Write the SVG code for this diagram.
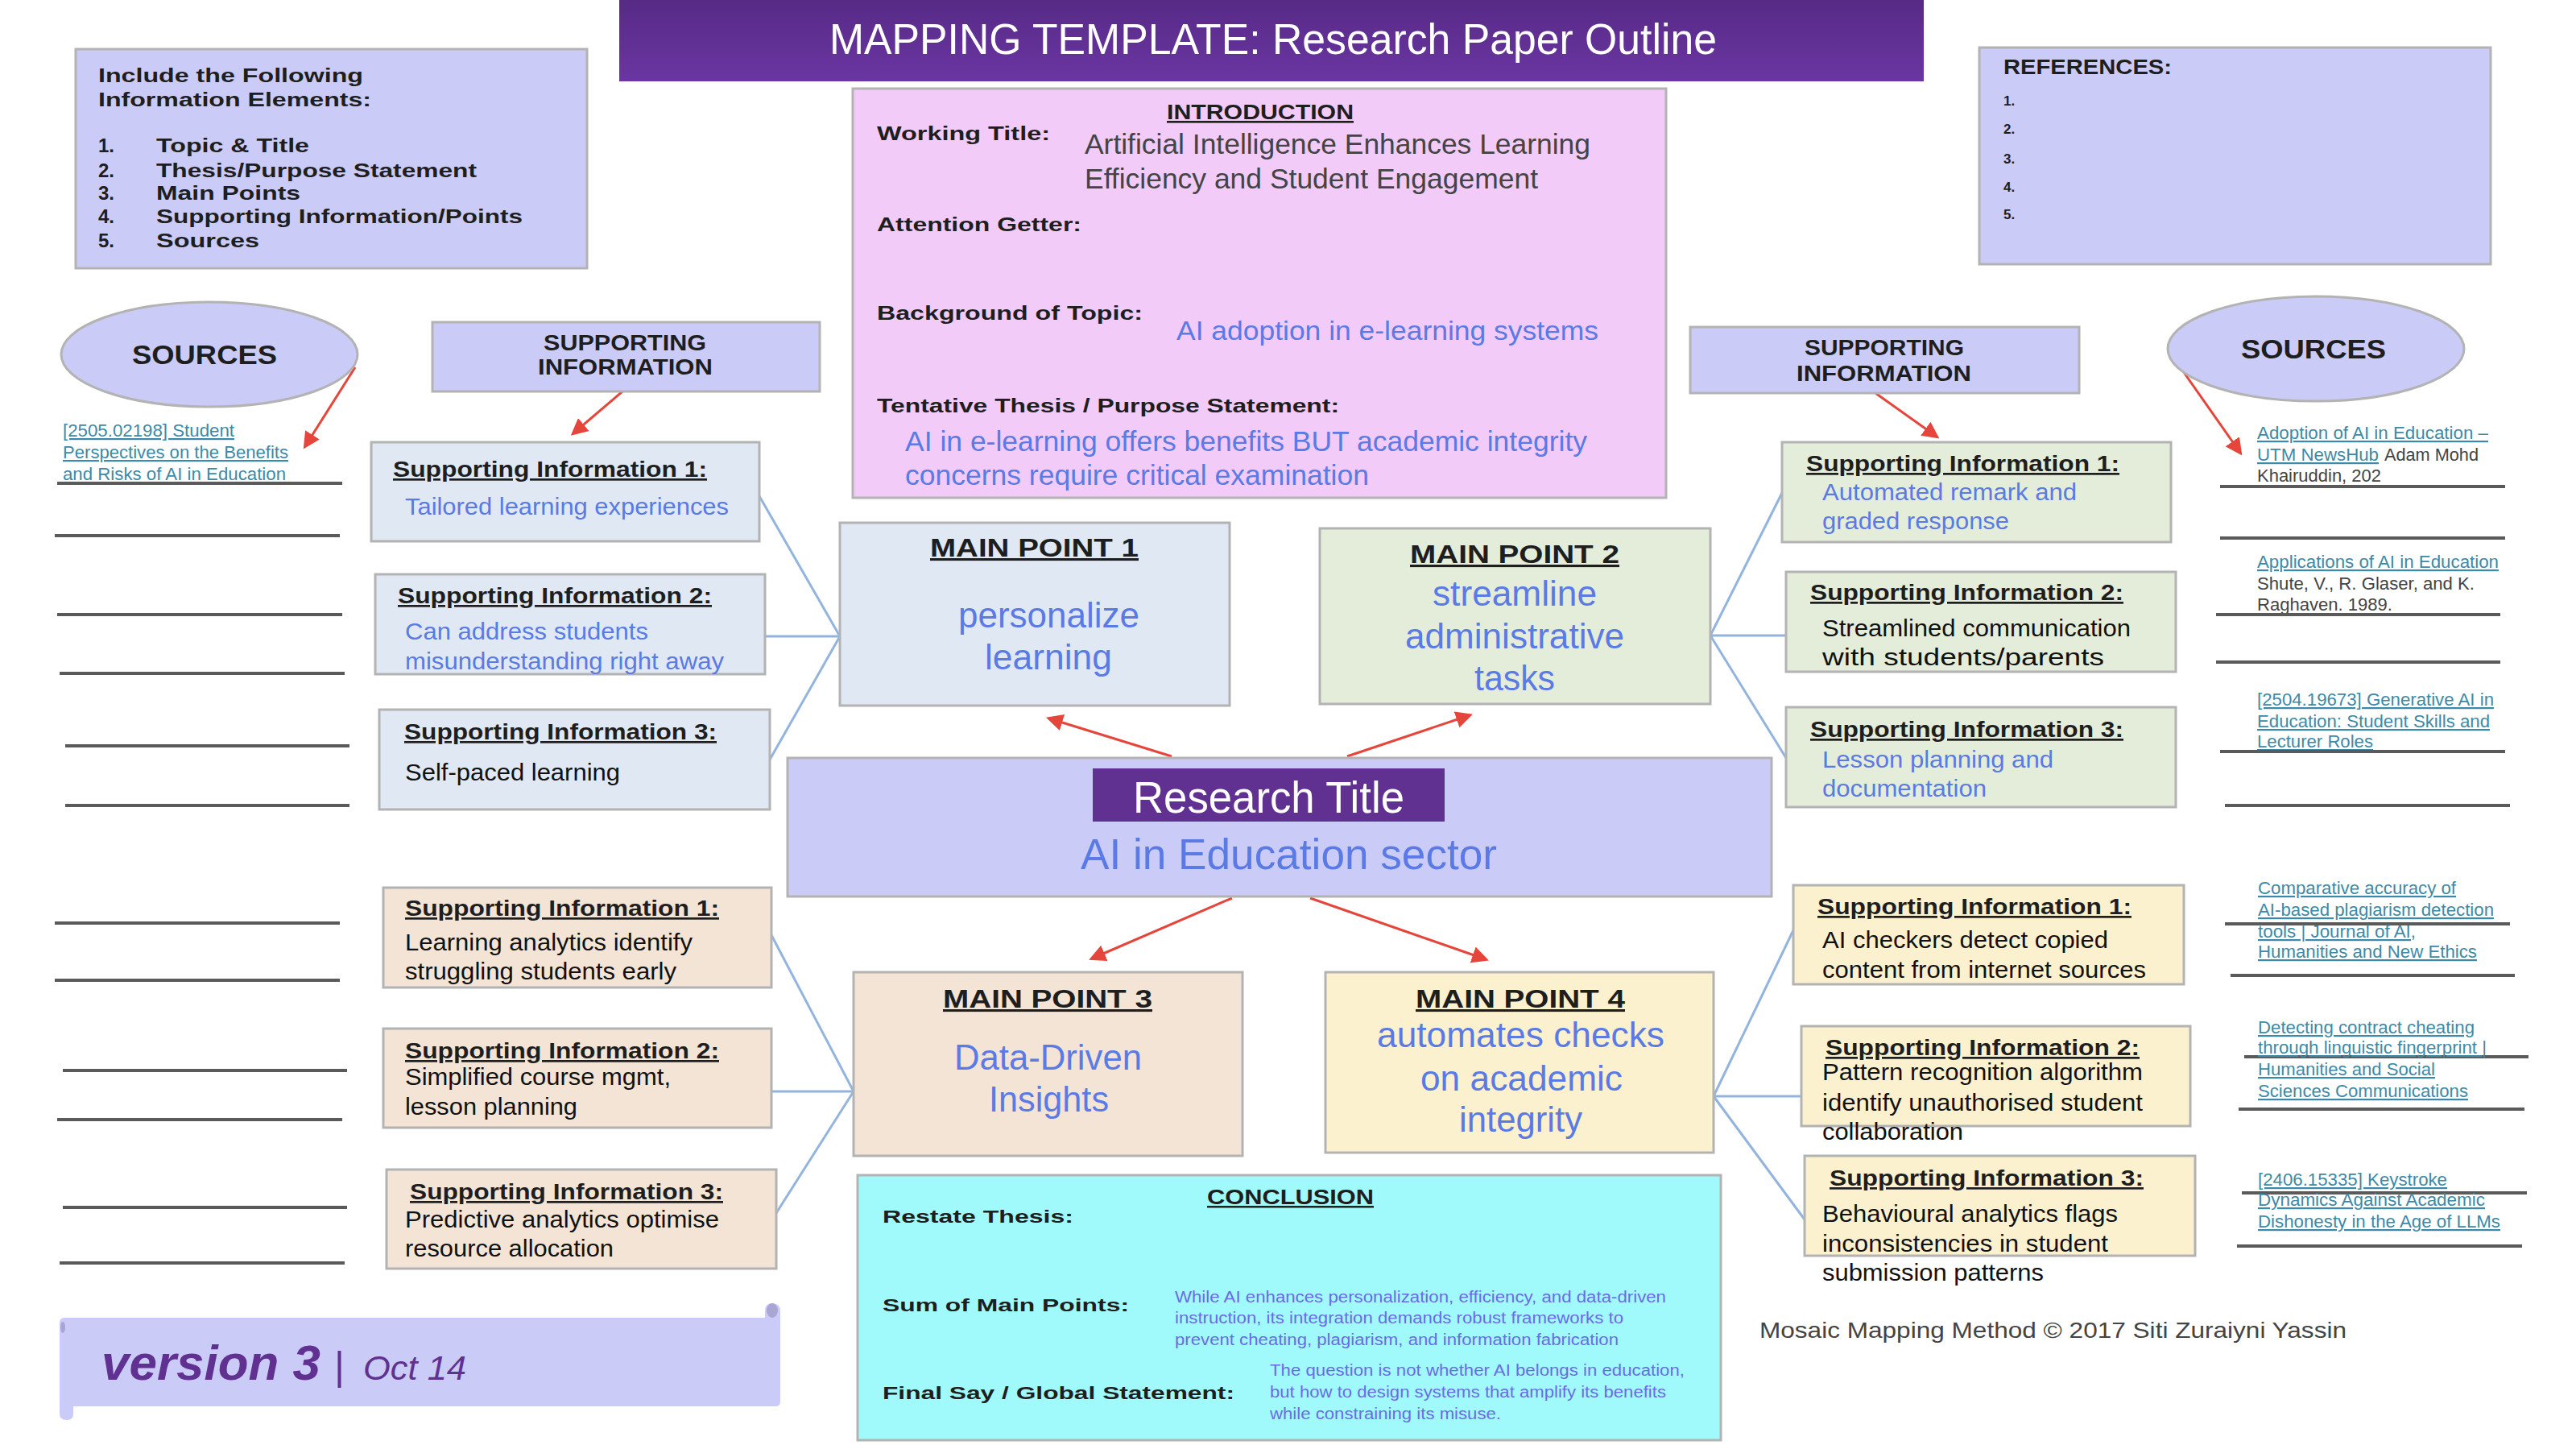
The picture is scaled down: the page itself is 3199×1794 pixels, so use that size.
<svg xmlns="http://www.w3.org/2000/svg" width="3199" height="1794" viewBox="0 0 3199 1794">
<defs>
<linearGradient id="barGrad" x1="0" y1="0" x2="0" y2="1">
<stop offset="0" stop-color="#572a86"/>
<stop offset="1" stop-color="#6a36a2"/>
</linearGradient>
<marker id="redArrow" viewBox="0 0 10 10" refX="8" refY="5" markerWidth="7" markerHeight="7" orient="auto">
<path d="M0,0 L10,5 L0,10 z" fill="#e5453a"/>
</marker>
<style>
.box{stroke:#b3b3b3;stroke-width:3}
.lav{fill:#cbcbf7}
.pink{fill:#f2cbf8}
.bl{fill:#dfe8f3}
.gr{fill:#e4ecda}
.pe{fill:#f3e4d6}
.ye{fill:#fbf1cf}
.cy{fill:#a0fafb}
text{font-family:"Liberation Sans",Arial,sans-serif}
.b{font-weight:bold;fill:#1e1e1e}
.n{font-family:"Liberation Sans Narrow","Liberation Sans",Arial,sans-serif}
.blue{fill:#5a7ae6}
.blk{fill:#111}
.dg{fill:#444}
.vio{fill:#6b6be6}
.u{text-decoration:underline}
.src{font-family:"Liberation Sans Narrow","Liberation Sans",Arial,sans-serif;font-size:22px;fill:#3d8aa8;text-decoration:underline}
.src2{font-family:"Liberation Sans Narrow","Liberation Sans",Arial,sans-serif;font-size:22px;fill:#444}
.line{stroke:#5a5a5a;stroke-width:4}
.conn{stroke:#93b4dd;stroke-width:3;fill:none}
.red{stroke:#e5453a;stroke-width:3;fill:none;marker-end:url(#redArrow)}
.sih{font-size:27px;font-weight:bold;fill:#1e1e1e;text-decoration:underline}
.sit{font-size:29px}
.mph{font-size:31px;font-weight:bold;fill:#1e1e1e;text-decoration:underline}
.mpt{font-size:44px}
</style>
</defs>
<rect x="0" y="0" width="3199" height="1794" fill="#ffffff"/>

<g id="title-bar">
<rect x="769" y="0" width="1620" height="101" fill="url(#barGrad)"/>
<text x="1030" y="67" font-family="Open Sans, sans-serif" font-size="53" fill="#ffffff" textLength="1102" lengthAdjust="spacingAndGlyphs">MAPPING TEMPLATE: Research Paper Outline</text>
</g>

<g id="info-elements">
<rect class="box lav" x="94" y="61" width="635" height="272"/>
<text class="b" font-size="24" x="122" y="102" textLength="329" lengthAdjust="spacingAndGlyphs">Include the Following</text>
<text class="b" font-size="24" x="122" y="132" textLength="339" lengthAdjust="spacingAndGlyphs">Information Elements:</text>
<text class="b" font-size="24" x="122" y="189">1.</text>
<text class="b" font-size="24" x="194" y="189" textLength="190" lengthAdjust="spacingAndGlyphs">Topic &amp; Title</text>
<text class="b" font-size="24" x="122" y="220">2.</text>
<text class="b" font-size="24" x="194" y="220" textLength="398" lengthAdjust="spacingAndGlyphs">Thesis/Purpose Statement</text>
<text class="b" font-size="24" x="122" y="248">3.</text>
<text class="b" font-size="24" x="194" y="248" textLength="179" lengthAdjust="spacingAndGlyphs">Main Points</text>
<text class="b" font-size="24" x="122" y="277">4.</text>
<text class="b" font-size="24" x="194" y="277" textLength="455" lengthAdjust="spacingAndGlyphs">Supporting Information/Points</text>
<text class="b" font-size="24" x="122" y="307">5.</text>
<text class="b" font-size="24" x="194" y="307" textLength="128" lengthAdjust="spacingAndGlyphs">Sources</text>
</g>

<g id="references">
<rect class="box lav" x="2458" y="59" width="635" height="269"/>
<text class="b" font-size="26" x="2488" y="92" textLength="209" lengthAdjust="spacingAndGlyphs">REFERENCES:</text>
<text class="b" font-size="17" x="2488" y="131">1.</text>
<text class="b" font-size="17" x="2488" y="166">2.</text>
<text class="b" font-size="17" x="2488" y="203">3.</text>
<text class="b" font-size="17" x="2488" y="238">4.</text>
<text class="b" font-size="17" x="2488" y="272">5.</text>
</g>

<g id="introduction">
<rect class="box pink" x="1059" y="110" width="1010" height="508"/>
<text class="b u" font-size="26" x="1449" y="148" textLength="232" lengthAdjust="spacingAndGlyphs">INTRODUCTION</text>
<text class="b" font-size="23" x="1089" y="174" textLength="215" lengthAdjust="spacingAndGlyphs">Working Title:</text>
<text class="n dg" font-size="35" x="1347" y="191" textLength="628" lengthAdjust="spacingAndGlyphs">Artificial Intelligence Enhances Learning</text>
<text class="n dg" font-size="35" x="1347" y="234" textLength="563" lengthAdjust="spacingAndGlyphs">Efficiency and Student Engagement</text>
<text class="b" font-size="23" x="1089" y="287" textLength="254" lengthAdjust="spacingAndGlyphs">Attention Getter:</text>
<text class="b" font-size="23" x="1089" y="397" textLength="330" lengthAdjust="spacingAndGlyphs">Background of Topic:</text>
<text class="n blue" font-size="34" x="1461" y="422" textLength="524" lengthAdjust="spacingAndGlyphs">AI adoption in e-learning systems</text>
<text class="b" font-size="23" x="1089" y="512" textLength="574" lengthAdjust="spacingAndGlyphs">Tentative Thesis / Purpose Statement:</text>
<text class="n blue" font-size="35" x="1124" y="560" textLength="847" lengthAdjust="spacingAndGlyphs">AI in e-learning offers benefits BUT academic integrity</text>
<text class="n blue" font-size="35" x="1124" y="602" textLength="576" lengthAdjust="spacingAndGlyphs">concerns require critical examination</text>
</g>

<g id="connectors">
<line class="conn" x1="943" y1="616" x2="1043" y2="790"/>
<line class="conn" x1="949" y1="790" x2="1043" y2="790"/>
<line class="conn" x1="956" y1="943" x2="1043" y2="790"/>
<line class="conn" x1="2124" y1="789" x2="2213" y2="612"/>
<line class="conn" x1="2124" y1="789" x2="2218" y2="789"/>
<line class="conn" x1="2124" y1="789" x2="2218" y2="941"/>
<line class="conn" x1="958" y1="1161" x2="1060" y2="1355"/>
<line class="conn" x1="958" y1="1355" x2="1060" y2="1355"/>
<line class="conn" x1="964" y1="1506" x2="1060" y2="1355"/>
<line class="conn" x1="2128" y1="1361" x2="2227" y2="1155"/>
<line class="conn" x1="2128" y1="1361" x2="2237" y2="1361"/>
<line class="conn" x1="2128" y1="1361" x2="2241" y2="1514"/>
<line class="red" x1="441" y1="456" x2="379" y2="554"/>
<line class="red" x1="773" y1="486" x2="712" y2="538"/>
<line class="red" x1="2329" y1="488" x2="2405" y2="542"/>
<line class="red" x1="2709" y1="458" x2="2782" y2="562"/>
<line class="red" x1="1455" y1="939" x2="1303" y2="892"/>
<line class="red" x1="1673" y1="939" x2="1825" y2="888"/>
<line class="red" x1="1530" y1="1115" x2="1356" y2="1190"/>
<line class="red" x1="1627" y1="1115" x2="1845" y2="1191"/>
</g>

<g id="sources-left">
<ellipse class="box lav" cx="260" cy="440" rx="184" ry="65"/>
<text class="b" font-size="34" x="164" y="452" textLength="180" lengthAdjust="spacingAndGlyphs">SOURCES</text>
<text class="src" x="78" y="542" textLength="213" lengthAdjust="spacingAndGlyphs">[2505.02198] Student</text>
<text class="src" x="78" y="569" textLength="280" lengthAdjust="spacingAndGlyphs">Perspectives on the Benefits</text>
<text class="src" x="78" y="596" textLength="277" lengthAdjust="spacingAndGlyphs">and Risks of AI in Education</text>
<line class="line" x1="71" y1="600" x2="425" y2="600"/>
<line class="line" x1="68" y1="665" x2="422" y2="665"/>
<line class="line" x1="71" y1="763" x2="425" y2="763"/>
<line class="line" x1="74" y1="836" x2="428" y2="836"/>
<line class="line" x1="81" y1="926" x2="434" y2="926"/>
<line class="line" x1="81" y1="1000" x2="434" y2="1000"/>
<line class="line" x1="68" y1="1146" x2="422" y2="1146"/>
<line class="line" x1="68" y1="1217" x2="422" y2="1217"/>
<line class="line" x1="78" y1="1329" x2="431" y2="1329"/>
<line class="line" x1="71" y1="1390" x2="425" y2="1390"/>
<line class="line" x1="78" y1="1499" x2="431" y2="1499"/>
<line class="line" x1="74" y1="1568" x2="428" y2="1568"/>
</g>

<g id="sources-right">
<ellipse class="box lav" cx="2876" cy="433" rx="184" ry="65"/>
<text class="b" font-size="34" x="2783" y="445" textLength="180" lengthAdjust="spacingAndGlyphs">SOURCES</text>
<text class="src" x="2803" y="545" textLength="287" lengthAdjust="spacingAndGlyphs">Adoption of AI in Education –</text>
<text class="src" x="2803" y="572" textLength="151" lengthAdjust="spacingAndGlyphs">UTM NewsHub</text>
<text class="src2" x="2961" y="572" textLength="117" lengthAdjust="spacingAndGlyphs">Adam Mohd</text>
<text class="src2" x="2803" y="598" textLength="154" lengthAdjust="spacingAndGlyphs">Khairuddin, 202</text>
<line class="line" x1="2757" y1="604" x2="3111" y2="604"/>
<line class="line" x1="2757" y1="668" x2="3111" y2="668"/>
<text class="src" x="2803" y="705" textLength="300" lengthAdjust="spacingAndGlyphs">Applications of AI in Education</text>
<text class="src2" x="2803" y="732" textLength="270" lengthAdjust="spacingAndGlyphs">Shute, V., R. Glaser, and K.</text>
<text class="src2" x="2803" y="758" textLength="168" lengthAdjust="spacingAndGlyphs">Raghaven. 1989.</text>
<line class="line" x1="2752" y1="763" x2="3105" y2="763"/>
<line class="line" x1="2752" y1="822" x2="3105" y2="822"/>
<text class="src" x="2803" y="876" textLength="294" lengthAdjust="spacingAndGlyphs">[2504.19673] Generative AI in</text>
<text class="src" x="2803" y="903" textLength="289" lengthAdjust="spacingAndGlyphs">Education: Student Skills and</text>
<text class="src" x="2803" y="928" textLength="144" lengthAdjust="spacingAndGlyphs">Lecturer Roles</text>
<line class="line" x1="2757" y1="933" x2="3111" y2="933"/>
<line class="line" x1="2763" y1="1000" x2="3117" y2="1000"/>
<line class="line" x1="2763" y1="1147" x2="3117" y2="1147"/>
<text class="src" x="2804" y="1110" textLength="246" lengthAdjust="spacingAndGlyphs">Comparative accuracy of</text>
<text class="src" x="2804" y="1137" textLength="293" lengthAdjust="spacingAndGlyphs">AI-based plagiarism detection</text>
<text class="src" x="2804" y="1164" textLength="196" lengthAdjust="spacingAndGlyphs">tools | Journal of AI,</text>
<text class="src" x="2804" y="1189" textLength="272" lengthAdjust="spacingAndGlyphs">Humanities and New Ethics</text>
<line class="line" x1="2770" y1="1211" x2="3123" y2="1211"/>
<line class="line" x1="2787" y1="1312" x2="3140" y2="1312"/>
<text class="src" x="2804" y="1283" textLength="269" lengthAdjust="spacingAndGlyphs">Detecting contract cheating</text>
<text class="src" x="2804" y="1308" textLength="284" lengthAdjust="spacingAndGlyphs">through linguistic fingerprint |</text>
<text class="src" x="2804" y="1335" textLength="220" lengthAdjust="spacingAndGlyphs">Humanities and Social</text>
<text class="src" x="2804" y="1362" textLength="261" lengthAdjust="spacingAndGlyphs">Sciences Communications</text>
<line class="line" x1="2780" y1="1377" x2="3135" y2="1377"/>
<line class="line" x1="2784" y1="1481" x2="3138" y2="1481"/>
<text class="src" x="2804" y="1472" textLength="235" lengthAdjust="spacingAndGlyphs">[2406.15335] Keystroke</text>
<text class="src" x="2804" y="1497" textLength="282" lengthAdjust="spacingAndGlyphs">Dynamics Against Academic</text>
<text class="src" x="2804" y="1524" textLength="301" lengthAdjust="spacingAndGlyphs">Dishonesty in the Age of LLMs</text>
<line class="line" x1="2778" y1="1547" x2="3132" y2="1547"/>
</g>

<g id="supporting-header-left">
<rect class="box lav" x="537" y="400" width="481" height="86"/>
<text class="b" font-size="27" x="675" y="435" textLength="202" lengthAdjust="spacingAndGlyphs">SUPPORTING</text>
<text class="b" font-size="27" x="668" y="465" textLength="217" lengthAdjust="spacingAndGlyphs">INFORMATION</text>
</g>
<g id="supporting-header-right">
<rect class="box lav" x="2099" y="406" width="483" height="82"/>
<text class="b" font-size="27" x="2241" y="441" textLength="198" lengthAdjust="spacingAndGlyphs">SUPPORTING</text>
<text class="b" font-size="27" x="2231" y="473" textLength="217" lengthAdjust="spacingAndGlyphs">INFORMATION</text>
</g>

<g id="si-left-1">
<rect class="box bl" x="461" y="549" width="482" height="123"/>
<text class="sih" x="488" y="592" textLength="390" lengthAdjust="spacingAndGlyphs">Supporting Information 1:</text>
<text class="n sit blue" x="503" y="639" textLength="402" lengthAdjust="spacingAndGlyphs">Tailored learning experiences</text>
</g>
<g id="si-left-2">
<rect class="box bl" x="466" y="713" width="484" height="124"/>
<text class="sih" x="494" y="749" textLength="390" lengthAdjust="spacingAndGlyphs">Supporting Information 2:</text>
<text class="n sit blue" x="503" y="794" textLength="302" lengthAdjust="spacingAndGlyphs">Can address students</text>
<text class="n sit blue" x="503" y="831" textLength="396" lengthAdjust="spacingAndGlyphs">misunderstanding right away</text>
</g>
<g id="si-left-3">
<rect class="box bl" x="471" y="881" width="485" height="124"/>
<text class="sih" x="502" y="918" textLength="388" lengthAdjust="spacingAndGlyphs">Supporting Information 3:</text>
<text class="n sit blk" x="503" y="969" textLength="267" lengthAdjust="spacingAndGlyphs">Self-paced learning</text>
</g>

<g id="si-right-1">
<rect class="box gr" x="2213" y="549" width="483" height="124"/>
<text class="sih" x="2243" y="585" textLength="389" lengthAdjust="spacingAndGlyphs">Supporting Information 1:</text>
<text class="n sit blue" x="2263" y="621" textLength="316" lengthAdjust="spacingAndGlyphs">Automated remark and</text>
<text class="n sit blue" x="2263" y="657" textLength="232" lengthAdjust="spacingAndGlyphs">graded response</text>
</g>
<g id="si-right-2">
<rect class="box gr" x="2218" y="710" width="484" height="124"/>
<text class="sih" x="2248" y="745" textLength="389" lengthAdjust="spacingAndGlyphs">Supporting Information 2:</text>
<text class="n sit blk" x="2263" y="790" textLength="383" lengthAdjust="spacingAndGlyphs">Streamlined communication</text>
<text class="n sit blk" x="2263" y="826" textLength="350" lengthAdjust="spacingAndGlyphs">with students/parents</text>
</g>
<g id="si-right-3">
<rect class="box gr" x="2218" y="878" width="484" height="124"/>
<text class="sih" x="2248" y="915" textLength="389" lengthAdjust="spacingAndGlyphs">Supporting Information 3:</text>
<text class="n sit blue" x="2263" y="953" textLength="287" lengthAdjust="spacingAndGlyphs">Lesson planning and</text>
<text class="n sit blue" x="2263" y="989" textLength="204" lengthAdjust="spacingAndGlyphs">documentation</text>
</g>

<g id="main-point-1">
<rect class="box bl" x="1043" y="649" width="484" height="227"/>
<text class="mph" x="1155" y="691" textLength="259" lengthAdjust="spacingAndGlyphs">MAIN POINT 1</text>
<text class="n mpt blue" x="1190" y="779" textLength="225" lengthAdjust="spacingAndGlyphs">personalize</text>
<text class="n mpt blue" x="1223" y="831" textLength="158" lengthAdjust="spacingAndGlyphs">learning</text>
</g>
<g id="main-point-2">
<rect class="box gr" x="1639" y="656" width="485" height="218"/>
<text class="mph" x="1751" y="699" textLength="260" lengthAdjust="spacingAndGlyphs">MAIN POINT 2</text>
<text class="n mpt blue" x="1779" y="752" textLength="204" lengthAdjust="spacingAndGlyphs">streamline</text>
<text class="n mpt blue" x="1745" y="805" textLength="272" lengthAdjust="spacingAndGlyphs">administrative</text>
<text class="n mpt blue" x="1831" y="857" textLength="100" lengthAdjust="spacingAndGlyphs">tasks</text>
</g>

<g id="research-title">
<rect class="box lav" x="978" y="941" width="1222" height="172"/>
<rect x="1357" y="954" width="437" height="66" fill="#613192"/>
<text class="n" font-size="55" fill="#ffffff" x="1407" y="1009" textLength="337" lengthAdjust="spacingAndGlyphs">Research Title</text>
<text class="n blue" font-size="53" x="1342" y="1079" textLength="517" lengthAdjust="spacingAndGlyphs">AI in Education sector</text>
</g>

<g id="main-point-3">
<rect class="box pe" x="1060" y="1207" width="483" height="228"/>
<text class="mph" x="1171" y="1251" textLength="260" lengthAdjust="spacingAndGlyphs">MAIN POINT 3</text>
<text class="n mpt blue" x="1185" y="1328" textLength="233" lengthAdjust="spacingAndGlyphs">Data-Driven</text>
<text class="n mpt blue" x="1228" y="1380" textLength="149" lengthAdjust="spacingAndGlyphs">Insights</text>
</g>
<g id="main-point-4">
<rect class="box ye" x="1646" y="1207" width="482" height="224"/>
<text class="mph" x="1758" y="1251" textLength="260" lengthAdjust="spacingAndGlyphs">MAIN POINT 4</text>
<text class="n mpt blue" x="1710" y="1300" textLength="357" lengthAdjust="spacingAndGlyphs">automates checks</text>
<text class="n mpt blue" x="1764" y="1354" textLength="251" lengthAdjust="spacingAndGlyphs">on academic</text>
<text class="n mpt blue" x="1812" y="1405" textLength="153" lengthAdjust="spacingAndGlyphs">integrity</text>
</g>

<g id="si-left-b1">
<rect class="box pe" x="476" y="1102" width="482" height="124"/>
<text class="sih" x="503" y="1137" textLength="390" lengthAdjust="spacingAndGlyphs">Supporting Information 1:</text>
<text class="n sit blk" x="503" y="1180" textLength="357" lengthAdjust="spacingAndGlyphs">Learning analytics identify</text>
<text class="n sit blk" x="503" y="1216" textLength="337" lengthAdjust="spacingAndGlyphs">struggling students early</text>
</g>
<g id="si-left-b2">
<rect class="box pe" x="476" y="1277" width="482" height="123"/>
<text class="sih" x="503" y="1314" textLength="390" lengthAdjust="spacingAndGlyphs">Supporting Information 2:</text>
<text class="n sit blk" x="503" y="1347" textLength="330" lengthAdjust="spacingAndGlyphs">Simplified course mgmt,</text>
<text class="n sit blk" x="503" y="1384" textLength="214" lengthAdjust="spacingAndGlyphs">lesson planning</text>
</g>
<g id="si-left-b3">
<rect class="box pe" x="480" y="1452" width="484" height="123"/>
<text class="sih" x="509" y="1489" textLength="389" lengthAdjust="spacingAndGlyphs">Supporting Information 3:</text>
<text class="n sit blk" x="503" y="1524" textLength="390" lengthAdjust="spacingAndGlyphs">Predictive analytics optimise</text>
<text class="n sit blk" x="503" y="1560" textLength="259" lengthAdjust="spacingAndGlyphs">resource allocation</text>
</g>

<g id="si-right-b1">
<rect class="box ye" x="2227" y="1099" width="485" height="123"/>
<text class="sih" x="2257" y="1135" textLength="390" lengthAdjust="spacingAndGlyphs">Supporting Information 1:</text>
<text class="n sit blk" x="2263" y="1177" textLength="355" lengthAdjust="spacingAndGlyphs">AI checkers detect copied</text>
<text class="n sit blk" x="2263" y="1214" textLength="402" lengthAdjust="spacingAndGlyphs">content from internet sources</text>
</g>
<g id="si-right-b2">
<rect class="box ye" x="2237" y="1274" width="483" height="124"/>
<text class="sih" x="2267" y="1310" textLength="390" lengthAdjust="spacingAndGlyphs">Supporting Information 2:</text>
<text class="n sit blk" x="2263" y="1341" textLength="398" lengthAdjust="spacingAndGlyphs">Pattern recognition algorithm</text>
<text class="n sit blk" x="2263" y="1379" textLength="398" lengthAdjust="spacingAndGlyphs">identify unauthorised student</text>
<text class="n sit blk" x="2263" y="1415" textLength="175" lengthAdjust="spacingAndGlyphs">collaboration</text>
</g>
<g id="si-right-b3">
<rect class="box ye" x="2241" y="1435" width="485" height="124"/>
<text class="sih" x="2272" y="1472" textLength="390" lengthAdjust="spacingAndGlyphs">Supporting Information 3:</text>
<text class="n sit blk" x="2263" y="1517" textLength="367" lengthAdjust="spacingAndGlyphs">Behavioural analytics flags</text>
<text class="n sit blk" x="2263" y="1554" textLength="355" lengthAdjust="spacingAndGlyphs">inconsistencies in student</text>
<text class="n sit blk" x="2263" y="1590" textLength="275" lengthAdjust="spacingAndGlyphs">submission patterns</text>
</g>

<g id="conclusion">
<rect class="box cy" x="1065" y="1459" width="1072" height="329"/>
<text class="b u" font-size="25" x="1499" y="1495" textLength="207" lengthAdjust="spacingAndGlyphs">CONCLUSION</text>
<text class="b" font-size="22" x="1096" y="1518" textLength="237" lengthAdjust="spacingAndGlyphs">Restate Thesis:</text>
<text class="b" font-size="22" x="1096" y="1628" textLength="306" lengthAdjust="spacingAndGlyphs">Sum of Main Points:</text>
<text class="n vio" font-size="20" x="1459" y="1617" textLength="610" lengthAdjust="spacingAndGlyphs">While AI enhances personalization, efficiency, and data-driven</text>
<text class="n vio" font-size="20" x="1459" y="1643" textLength="557" lengthAdjust="spacingAndGlyphs">instruction, its integration demands robust frameworks to</text>
<text class="n vio" font-size="20" x="1459" y="1670" textLength="551" lengthAdjust="spacingAndGlyphs">prevent cheating, plagiarism, and information fabrication</text>
<text class="b" font-size="22" x="1096" y="1737" textLength="437" lengthAdjust="spacingAndGlyphs">Final Say / Global Statement:</text>
<text class="n vio" font-size="20" x="1577" y="1708" textLength="515" lengthAdjust="spacingAndGlyphs">The question is not whether AI belongs in education,</text>
<text class="n vio" font-size="20" x="1577" y="1735" textLength="492" lengthAdjust="spacingAndGlyphs">but how to design systems that amplify its benefits</text>
<text class="n vio" font-size="20" x="1577" y="1762" textLength="287" lengthAdjust="spacingAndGlyphs">while constraining its misuse.</text>
</g>

<g id="version-banner">
<path d="M80 1636 L950 1636 L950 1627 Q950 1618 959 1618 Q969 1618 969 1628 L969 1740 Q969 1746 963 1746 L91 1746 L91 1756 Q91 1763 83 1763 Q74 1763 74 1755 L74 1642 Q74 1636 80 1636 Z" fill="#cbcbf7"/>
<ellipse cx="959" cy="1627" rx="7" ry="9" fill="#a9a6d3"/>
<ellipse cx="78" cy="1648" rx="3" ry="7" fill="#a9a6d3"/>
<text x="126" y="1713" font-size="62" font-weight="bold" font-style="italic" fill="#613192" textLength="272" lengthAdjust="spacingAndGlyphs">version 3</text>
<text x="415" y="1713" font-size="50" fill="#613192">|</text>
<text x="451" y="1713" font-size="43" font-style="italic" fill="#613192" textLength="128" lengthAdjust="spacingAndGlyphs">Oct 14</text>
</g>

<g id="footer">
<text x="2185" y="1661" font-size="28" fill="#444" textLength="729" lengthAdjust="spacingAndGlyphs">Mosaic Mapping Method © 2017 Siti Zuraiyni Yassin</text>
</g>
</svg>
